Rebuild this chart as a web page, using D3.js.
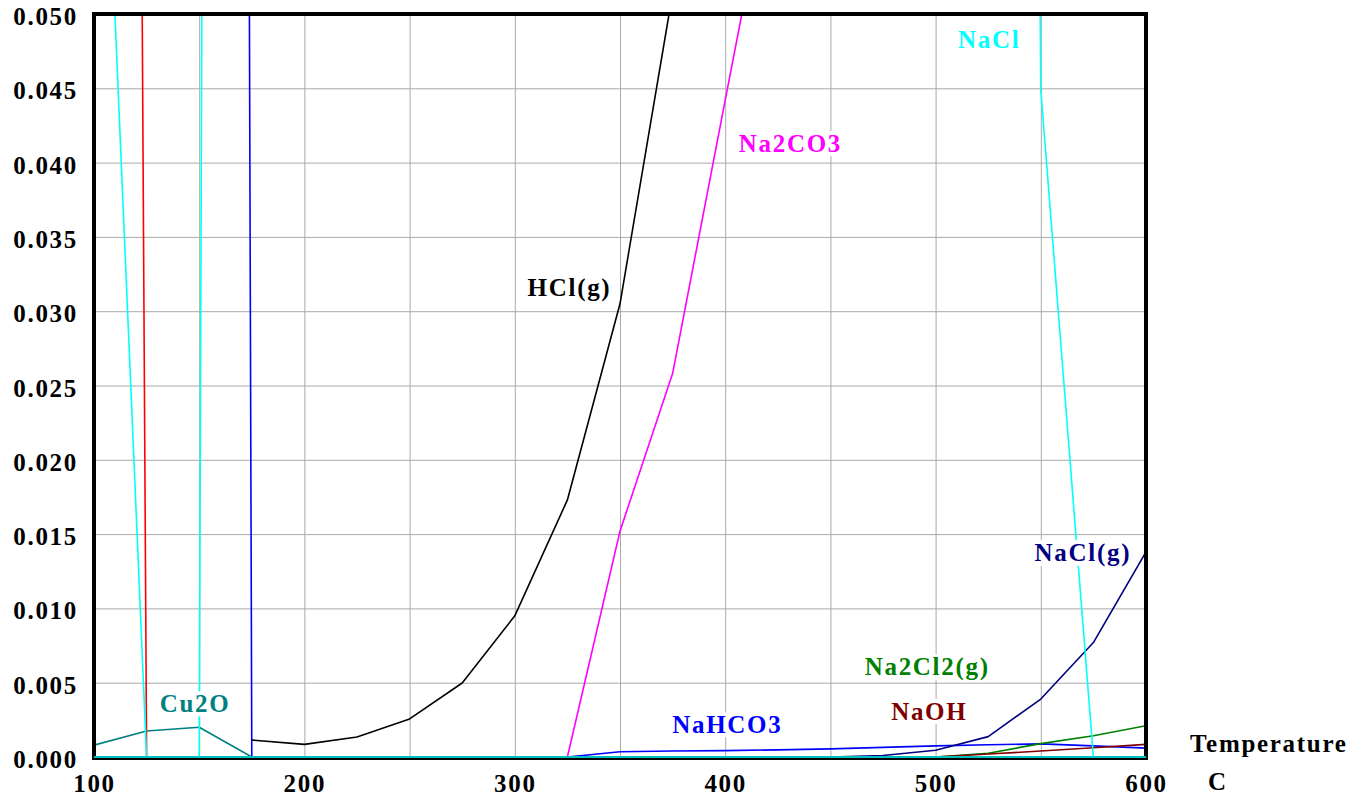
<!DOCTYPE html>
<meta charset="utf-8">
<style>
body, html {
  margin: 0;
  padding: 0;
  background: #fff;
}
text {
  font-family: "Liberation Serif", "Times New Roman", serif;
  font-weight: bold;
  font-size: 25px;
  letter-spacing: 1.7px;
}
.grid line {
  stroke: #a9a9a9;
  stroke-width: 1;
}
.grid path {
  display: none;
}
.series {
  fill: none;
  stroke-width: 1.6;
  stroke-linejoin: round;
}
</style>
<div id="chart"></div>
<script src="https://d3js.org/d3.v7.min.js"></script>
<script>
// temperatures (C)
const temps = [100, 125, 150, 175, 200, 225, 250, 275, 300, 325, 350, 375, 400, 425, 450, 475, 500, 525, 550, 575, 600];

// amounts; values above 0.05 run off the top
const hcl     = [null, null, null, 0.00114, 0.00085, 0.00135, 0.00256, 0.00498, 0.0095, 0.0173, 0.0305, 0.0514, null, null, null, null, null, null, null, null, null];
const na2co3  = [0, 0, 0, 0, 0, 0, 0, 0, 0, 0, 0.0152, 0.0258, 0.0442, 0.0625, null, null, null, null, null, null, null];
const nacl    = [0.083, 0, 0, 1.0, 1.0, 1.0, 1.0, 1.0, 1.0, 1.0, 1.0, 1.0, 1.0, 1.0, 1.0, 1.0, 1.0, 0.5, 0.0449, 0, 0];
const naclG   = [0, 0, 0, 0, 0, 0, 0, 0, 0, 0, 0, 0, 0, 0, 0, 0.0001, 0.00045, 0.00137, 0.0039, 0.0077, 0.0138];
const na2cl2G = [0, 0, 0, 0, 0, 0, 0, 0, 0, 0, 0, 0, 0, 0, 0, 0, 0, 0.00025, 0.0009, 0.00143, 0.0021];
const naoh    = [0, 0, 0, 0, 0, 0, 0, 0, 0, 0, 0, 0, 0, 0, 0, 0, 0, 0.0002, 0.0004, 0.00062, 0.00085];
const nahco3  = [1.1, 1.1, 1.1, 0, 0, 0, 0, 0, 0, 0, 0.00035, 0.0004, 0.00043, 0.00048, 0.00055, 0.00065, 0.00075, 0.00082, 0.00088, 0.00075, 0.0006];
const cu2o    = [0.0008, 0.00175, 0.002, 0, 0, 0, 0, 0, 0, 0, 0, 0, 0, 0, 0, 0, 0, 0, 0, 0, 0];
const redSer  = [0.6, 0, 0, 0, 0, 0, 0, 0, 0, 0, 0, 0, 0, 0, 0, 0, 0, 0, 0, 0, 0];
const zeroSer = [0, 0, 0, 0, 0, 0, 0, 0, 0, 0, 0, 0, 0, 0, 0, 0, 0, 0, 0, 0, 0];

const xTicks = [100, 150, 200, 250, 300, 350, 400, 450, 500, 550, 600];
const xLabels = [100, 200, 300, 400, 500, 600];
const yTicks = [0, 0.005, 0.01, 0.015, 0.02, 0.025, 0.03, 0.035, 0.04, 0.045, 0.05];

const series = [
  { name: "Cu2O", values: cu2o, color: "#008080" },
  { name: "", values: redSer, color: "#ff0000" },
  { name: "NaHCO3", values: nahco3, color: "#0000ff" },
  { name: "HCl(g)", values: hcl, color: "#000000" },
  { name: "Na2CO3", values: na2co3, color: "#ff00ff" },
  { name: "NaCl(g)", values: naclG, color: "#000080" },
  { name: "Na2Cl2(g)", values: na2cl2G, color: "#008000" },
  { name: "NaOH", values: naoh, color: "#800000" },
  { name: "NaCl", values: nacl, color: "#00ffff" }
];

// label anchors (data coords) for the in-plot names
const labels = [
  { text: "NaCl", t: 525.5, v: 0.0477, color: "#00ffff" },
  { text: "Na2CO3", t: 431, v: 0.0407, color: "#ff00ff" },
  { text: "HCl(g)", t: 326, v: 0.031, color: "#000000" },
  { text: "NaCl(g)", t: 570, v: 0.0132, color: "#000080" },
  { text: "Na2Cl2(g)", t: 496, v: 0.0055, color: "#008000" },
  { text: "NaOH", t: 497, v: 0.0025, color: "#800000" },
  { text: "NaHCO3", t: 401, v: 0.0016, color: "#0000ff" },
  { text: "Cu2O", t: 148, v: 0.003, color: "#008080" }
];

const width = 1360, height = 797;
const pLeft = 94, pRight = 1146, pTop = 14, pBottom = 757;

const x = d3.scaleLinear().domain([100, 600]).range([pLeft, pRight]);
const y = d3.scaleLinear().domain([0, 0.05]).range([pBottom, pTop]);

const svg = d3.select("#chart").append("svg")
    .attr("width", width)
    .attr("height", height);

svg.append("clipPath").attr("id", "plot")
  .append("rect")
    .attr("x", pLeft).attr("y", pTop)
    .attr("width", pRight - pLeft).attr("height", pBottom - pTop);

// grid
svg.append("g")
    .attr("class", "grid")
    .attr("transform", "translate(0," + pBottom + ")")
    .call(d3.axisBottom(x).tickValues(xTicks).tickSize(-(pBottom - pTop)).tickFormat(""));
svg.append("g")
    .attr("class", "grid")
    .attr("transform", "translate(" + pLeft + ",0)")
    .call(d3.axisLeft(y).tickValues(yTicks).tickSize(-(pRight - pLeft)).tickFormat(""));

// lines
const line = d3.line()
    .defined(d => d[1] !== null)
    .x(d => x(d[0]))
    .y(d => y(d[1]));

const lines = svg.append("g").attr("clip-path", "url(#plot)");
series.forEach(s => {
  lines.append("path")
      .attr("class", "series")
      .attr("stroke", s.color)
      .attr("d", line(temps.map((t, i) => [t, s.values[i]])));
});

// in-plot labels with white boxes
labels.forEach(l => {
  const g = svg.append("g");
  const txt = g.append("text")
      .attr("x", x(l.t))
      .attr("y", y(l.v))
      .attr("text-anchor", "middle")
      .attr("fill", l.color)
      .text(l.text);
  const bb = txt.node().getBBox();
  g.insert("rect", "text")
      .attr("x", bb.x - 6).attr("y", bb.y + 1)
      .attr("width", bb.width + 12).attr("height", bb.height - 2)
      .attr("fill", "#fff");
});

// frame
svg.append("rect")
    .attr("x", pLeft).attr("y", pTop)
    .attr("width", pRight - pLeft).attr("height", pBottom - pTop + 1)
    .attr("fill", "none")
    .attr("stroke", "#000")
    .attr("stroke-width", 4);

// zero series along the base, drawn over the frame
svg.append("path")
    .attr("class", "series")
    .attr("stroke", "#00ffff")
    .attr("stroke-width", 3)
    .attr("d", line(temps.map((t, i) => [t, zeroSer[i]])));

// axis labels
const xAxis = svg.append("g")
    .attr("transform", "translate(0," + pBottom + ")")
    .call(d3.axisBottom(x).tickValues(xLabels).tickSize(0).tickPadding(17).tickFormat(d3.format("d")));
xAxis.select(".domain").remove();
xAxis.selectAll("text").attr("fill", "#000");

const yAxis = svg.append("g")
    .attr("transform", "translate(" + pLeft + ",0)")
    .call(d3.axisLeft(y).tickValues(yTicks).tickSize(0).tickPadding(16).tickFormat(d3.format(".3f")));
yAxis.select(".domain").remove();
yAxis.selectAll("text").attr("fill", "#000").attr("dy", "0.42em");
xAxis.attr("font-size", null).attr("font-family", null);
yAxis.attr("font-size", null).attr("font-family", null);

svg.append("text")
    .attr("x", 1190).attr("y", 752)
    .text("Temperature");
svg.append("text")
    .attr("x", 1208).attr("y", 790)
    .text("C");
</script>
